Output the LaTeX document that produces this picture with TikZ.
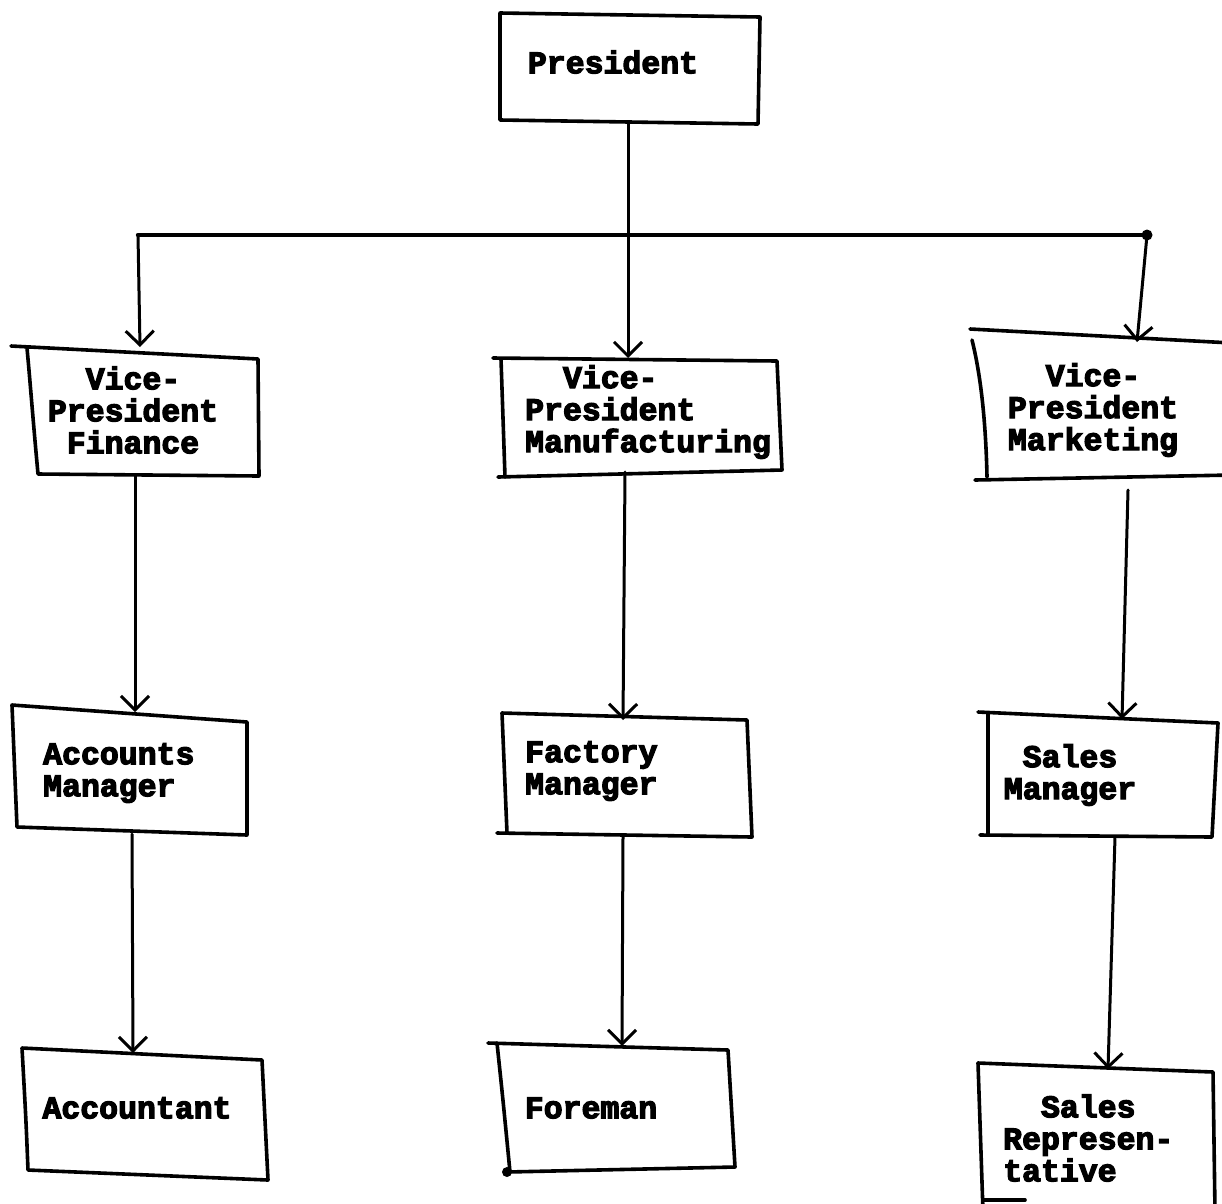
\documentclass[tikz,border=0pt]{standalone}
\usepackage{fontspec}
\newfontfamily\typer{Liberation Mono Bold}[FakeBold=4]
\usetikzlibrary{arrows.meta}
\begin{document}
\begin{tikzpicture}[x=1pt,y=-1pt,
  box/.style={line width=3.6pt, line join=round, line cap=round},
  link/.style={line width=3pt, line cap=round,
    -{Straight Barb[length=14pt,width=28pt,line width=3pt]}},
  bus/.style={line width=4.4pt, line cap=round},
  lbl/.style={font=\typer\fontsize{31.5}{32}\selectfont, inner sep=0pt}]
\useasboundingbox (0,0) rectangle (1222,1203);

% ---------- labels ----------
\node[lbl] (pres) at (613,62) {President};
\node[lbl, align=center] (vpfin) at (133,410) {Vice-\\President\\Finance};
\node[lbl, align=left, anchor=west] (vpmfg) at (525,412) {\hspace*{1.2em}Vice-\\President\\Manufacturing};
\node[lbl, align=center] (vpmkt) at (1093,410) {Vice-\\President\\Marketing};
\node[lbl, align=left, anchor=west] (accmgr) at (43,773) {Accounts\\Manager};
\node[lbl, align=left, anchor=west] (facmgr) at (525,771) {Factory\\Manager};
\node[lbl, align=center] (salmgr) at (1070,775) {Sales\\Manager};
\node[lbl] (acct) at (137,1108) {Accountant};
\node[lbl] (fore) at (591,1108) {Foreman};
\node[lbl, align=left, anchor=west] (salrep) at (1003,1138) {\hspace*{1.2em}Sales\\Represen-\\tative};

% ---------- hand-drawn boxes ----------
% President
\draw[box] (500,13) -- (760,17) -- (758,124) -- (500,120) -- cycle;
% Vice-President Finance
\draw[box] (11,346) -- (258,359) -- (259,476) -- (38,474)
  .. controls (33,420) and (30,380) .. (27,348);
% Vice-President Manufacturing
\draw[box] (493,358) -- (777,361) -- (782,470) -- (498,477);
\draw[box] (501,359) -- (505,477);
% Vice-President Marketing (runs off the right edge)
\draw[box] (970,329) -- (1232,343);
\draw[box] (972,340) .. controls (982,380) and (986,430) .. (987,477);
\draw[box] (975,480) -- (1232,475);
% Accounts Manager
\draw[box] (12,705) -- (247,722) -- (247,835) -- (17,827) -- cycle;
% Factory Manager
\draw[box] (502,713) -- (747,720) -- (752,837) -- (497,833);
\draw[box] (502,713) -- (507,833);
% Sales Manager
\draw[box] (978,712) -- (1218,723) -- (1212,837) -- (980,835);
\draw[box] (988,713) -- (988,835);
% Accountant
\draw[box] (22,1048) -- (262,1060) -- (268,1180) -- (28,1170)
  .. controls (26,1120) .. (22,1048);
% Foreman
\draw[box] (488,1043) -- (728,1050) -- (735,1167) -- (507,1172);
\draw[box] (497,1043) .. controls (503,1100) .. (510,1172);
\fill (507,1172) circle (5);
% Sales Representative (runs off the bottom edge)
\draw[box] (978,1063) -- (1213,1072) -- (1215,1212);
\draw[box] (978,1063) -- (983,1212);
\draw[box] (983,1200) -- (1025,1200);

% ---------- connector end points ----------
\coordinate (pres-s)   at (628,124);
\coordinate (bar-w)    at (138,235);
\coordinate (bar-e)    at (1147,235);
\coordinate (fin-n)    at (140,347);
\coordinate (mfg-n)    at (628,358);
\coordinate (mkt-n)    at (1137,342);
\coordinate (fin-s)    at (135,476);
\coordinate (mfg-s)    at (625,472);
\coordinate (mkt-s)    at (1128,490);
\coordinate (accmgr-n) at (135,712);
\coordinate (facmgr-n) at (623,720);
\coordinate (salmgr-n) at (1122,719);
\coordinate (accmgr-s) at (132,834);
\coordinate (facmgr-s) at (623,837);
\coordinate (salmgr-s) at (1115,837);
\coordinate (acct-n)   at (133,1053);
\coordinate (fore-n)   at (622,1046);
\coordinate (salrep-n) at (1108,1069);

% ---------- connectors ----------
\draw[bus] (bar-w) -- (bar-e);
\fill (bar-e) circle (5.5);
\draw[link] (pres-s) -- (mfg-n);
\draw[link] (bar-w) -- (fin-n);
\draw[link] (bar-e) -- (mkt-n);
\draw[link] (fin-s) -- (accmgr-n);
\draw[link] (mfg-s) -- (facmgr-n);
\draw[link] (mkt-s) -- (salmgr-n);
\draw[link] (accmgr-s) -- (acct-n);
\draw[link] (facmgr-s) -- (fore-n);
\draw[link] (salmgr-s) -- (salrep-n);
\end{tikzpicture}
\end{document}
